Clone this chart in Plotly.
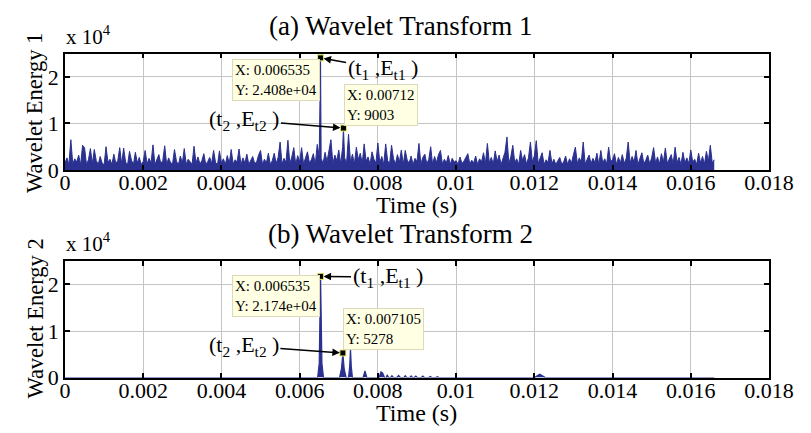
import numpy as np
import plotly.graph_objects as go

# ---------------- data ----------------
# (a) Wavelet Transform 1 : energy sampled every 0.00005 s from t = 0
dt_a = 0.00005
energy_a = [
    1500, 2600, 1200, 6500, 1300, 2400, 1700, 3200, 1100, 5300,
    4800, 1200, 2200, 4600, 1400, 4400, 2000, 1200, 2900, 1500,
    1100, 5000, 1600, 2300, 1200, 3400, 1400, 2000, 4800, 1300,
    4700, 1700, 1100, 4000, 2100, 1200, 3800, 1500, 2700, 1200,
    1800, 4200, 1300, 2500, 1500, 5400, 1200, 2200, 3300, 1400,
    2000, 5200, 1200, 2600, 1600, 1300, 4400, 1900, 1100, 3000,
    1500, 4600, 1200, 2300, 1700, 1200, 5100, 1500, 2800, 1300,
    2000, 3500, 1200, 1800, 2700, 1400, 4200, 1600, 1200, 4100,
    1500, 2400, 1200, 3100, 1400, 4400, 1300, 2200, 1700, 4500,
    1200, 2600, 1500, 3400, 1200, 1900, 2900, 1400, 1700, 3200,
    4200, 1200, 2300, 1500, 3600, 1200, 2000, 3600, 1400, 2700,
    6000, 1300, 2500, 1600, 6400, 1400, 2800, 4800, 1200, 3100,
    1700, 4800, 1300, 2600, 3900, 1500, 2200, 3500, 1200, 5500,
    3000, 2500, 1400, 3800, 1800, 4400, 6500, 1400, 3200, 2000,
    4300, 1300, 5000, 2600, 1500, 7700, 1700, 3400, 1300, 4900,
    2200, 3600, 1400, 5600, 1900, 2800, 1200, 3900, 2300, 1500,
    5800, 1600, 2900, 1200, 5600, 2000, 1400, 5300, 2400, 1300,
    3300, 1700, 4300, 1200, 4200, 2100, 1500, 3000, 1200, 2500,
    1800, 5700, 1300, 2700, 3400, 1400, 2200, 5000, 1200, 2900,
    1600, 3300, 4200, 1300, 2300, 1500, 3100, 1200, 2500, 1700,
    2000, 1200, 2800, 1400, 1900, 2600, 3500, 1300, 2100, 1500,
    3000, 1200, 2400, 1700, 3700, 1400, 5700, 1500, 2700, 1300,
    4100, 1800, 3200, 1200, 2500, 3800, 7100, 1400, 2900, 5300,
    1600, 2400, 1200, 4200, 2000, 3300, 1300, 2600, 6000, 1700,
    3000, 6300, 1400, 2500, 3700, 1200, 2200, 1600, 4200, 1400,
    2300, 1200, 2000, 2700, 1300, 1700, 3000, 1200, 2400, 1500,
    3300, 4900, 1400, 2600, 1700, 6000, 1300, 2100, 3200, 1400,
    2500, 1600, 3600, 1200, 4200, 1500, 2400, 1300, 4900, 1800,
    2200, 3500, 1200, 2700, 1500, 3300, 1400, 2500, 6000, 1500,
    2900, 1700, 4200, 1200, 2400, 3700, 1400, 2100, 3200, 1300,
    2600, 4800, 1500, 2800, 1300, 3500, 1700, 4700, 1400, 2400,
    3300, 1300, 4900, 1600, 2700, 1200, 3800, 1500, 2600, 1400,
    4300, 1700, 2300, 1200, 3600, 1500, 2900, 1300, 4000, 1900,
    5300, 1500, 2200,
]
peak_t_a = [0.006535, 0.00712]
peak_e_a = [24080, 9003]

# (b) Wavelet Transform 2
t_b = [0.0, 0.00646, 0.0065, 0.006535, 0.00657, 0.00661,
       0.00702, 0.00707, 0.007105, 0.00714, 0.00719,
       0.00725, 0.00728, 0.0073, 0.00732, 0.00735,
       0.00762, 0.00767, 0.00772,
       0.00803, 0.00808, 0.0081, 0.00812, 0.00817,
       0.00821, 0.00824, 0.00828, 0.00832, 0.00836, 0.0084,
       0.00848, 0.00853, 0.00858, 0.00866, 0.0087, 0.00874,
       0.00881, 0.00885, 0.00889, 0.00893, 0.00897, 0.00901,
       0.00911, 0.00915, 0.00919, 0.0093, 0.00934, 0.00938,
       0.00948, 0.00952, 0.00956, 0.0120, 0.01214, 0.01228,
       0.0166]
e_b = [0, 0, 3000, 21740, 3000, 0,
       0, 2000, 5278, 1800, 0,
       0, 2500, 6300, 2400, 0,
       0, 1450, 0,
       0, 1300, 800, 1000, 0,
       0, 500, 0, 0, 400, 0,
       0, 450, 0, 0, 400, 0,
       0, 350, 0, 0, 300, 0,
       0, 300, 0, 0, 250, 0,
       0, 200, 0, 0, 700, 0,
       0]

x_ticks = [0, 0.002, 0.004, 0.006, 0.008, 0.01, 0.012, 0.014, 0.016, 0.018]
x_tick_labels = ["0", "0.002", "0.004", "0.006", "0.008", "0.01",
                 "0.012", "0.014", "0.016", "0.018"]
y_ticks = [0, 10000, 20000]
y_tick_labels = ["0", "1", "2"]

titles = ["(a) Wavelet Transform 1", "(b) Wavelet Transform 2"]
y_titles = ["Wavelet Energy 1", "Wavelet Energy 2"]
x_title = "Time (s)"
tip_texts = ["X: 0.006535<br>Y: 2.408e+04", "X: 0.00712<br>Y: 9003",
             "X: 0.006535<br>Y: 2.174e+04", "X: 0.007105<br>Y: 5278"]
tip_points_a = ([0.006535, 0.00712], [24080, 9003])
tip_points_b = ([0.006535, 0.007105], [21740, 5278])

# ---------------- figure ----------------
W, H = 811, 433
FONT = "Liberation Serif"
BLUE = "#2B3190"


def px(x):
    return x / W


def py(y):
    return 1 - y / H


t_grid = np.arange(len(energy_a)) * dt_a
t_all = np.concatenate([t_grid, peak_t_a])
e_all = np.concatenate([energy_a, peak_e_a])
order = np.argsort(t_all, kind="stable")
t_all, e_all = t_all[order], e_all[order]

fig = go.Figure()
fig.add_trace(go.Scatter(x=t_all, y=e_all, mode="lines", xaxis="x", yaxis="y",
                         line=dict(color=BLUE, width=1), fill="tozeroy",
                         fillcolor=BLUE, hoverinfo="skip"))
fig.add_trace(go.Scatter(x=t_b, y=e_b, mode="lines", xaxis="x2", yaxis="y2",
                         line=dict(color=BLUE, width=1.2), fill="tozeroy",
                         fillcolor=BLUE, hoverinfo="skip"))
for (tx, ty), xa, ya in [(tip_points_a, "x", "y"), (tip_points_b, "x2", "y2")]:
    fig.add_trace(go.Scatter(x=tx, y=ty, mode="markers", xaxis=xa, yaxis=ya,
                             marker=dict(symbol="square", size=6, color="black",
                                         line=dict(color="#E8E860", width=1)),
                             hoverinfo="skip"))

x_dom = [px(53), px(785)]
common_x = dict(range=[0, 0.018], tickvals=x_ticks, ticktext=x_tick_labels,
                ticks="inside", ticklen=5, tickwidth=1.5, tickcolor="black",
                showline=True, linecolor="black", linewidth=1.5, mirror="ticks",
                showgrid=True, gridcolor="#C4C4C4", gridwidth=1, zeroline=False,
                ticklabelstandoff=-8,
                tickfont=dict(family=FONT, size=22, color="black"), domain=x_dom)
common_y = dict(range=[0, 25000], tickvals=y_ticks, ticktext=y_tick_labels,
                ticks="inside", ticklen=5, tickwidth=1.5, tickcolor="black",
                showline=True, linecolor="black", linewidth=1.5, mirror="ticks",
                showgrid=True, gridcolor="#C4C4C4", gridwidth=1, zeroline=False,
                tickfont=dict(family=FONT, size=22, color="black"))

fig.update_layout(
    width=W, height=H, margin=dict(l=0, r=0, t=0, b=0),
    paper_bgcolor="white", plot_bgcolor="white", showlegend=False,
    xaxis=dict(common_x, anchor="y"),
    yaxis=dict(common_y, domain=[py(167), py(47)], anchor="x"),
    xaxis2=dict(common_x, anchor="y2"),
    yaxis2=dict(common_y, domain=[py(381), py(261)], anchor="x2"),
)

ann = []
# titles, axis titles, exponent labels
for i, (ty, ey, yl, xl) in enumerate([(19, 44, 108, 203), (233, 258, 320, 418)]):
    ann.append(dict(text=titles[i], x=px(402), y=py(ty), xref="paper", yref="paper",
                    showarrow=False, font=dict(family=FONT, size=27, color="black"),
                    xanchor="center", yanchor="middle"))
    ann.append(dict(text=x_title, x=px(419), y=py(xl), xref="paper", yref="paper",
                    showarrow=False, font=dict(family=FONT, size=24, color="black"),
                    xanchor="center", yanchor="middle"))
    ann.append(dict(text=y_titles[i], x=px(22), y=py(yl), xref="paper", yref="paper",
                    showarrow=False, textangle=-90,
                    font=dict(family=FONT, size=22.5, color="black"),
                    xanchor="center", yanchor="middle"))
    ann.append(dict(text="x 10<sup>4</sup>", x=px(52), y=py(ey), xref="paper", yref="paper",
                    showarrow=False, font=dict(family=FONT, size=21, color="black"),
                    xanchor="left", yanchor="bottom"))

# datatip boxes
for text, cx, cy in [(tip_texts[0], 272, 74), (tip_texts[1], 382, 100),
                     (tip_texts[2], 272, 297), (tip_texts[3], 384, 331)]:
    ann.append(dict(text=text, x=px(cx), y=py(cy), xref="paper", yref="paper",
                    showarrow=False, align="left", bgcolor="#FFFFE3",
                    bordercolor="#DCDAB8", borderwidth=1, borderpad=2,
                    font=dict(family=FONT, size=15, color="black"),
                    xanchor="center", yanchor="middle"))

# arrow labels
lab1 = "(t<sub>1</sub> ,E<sub>t1</sub> )"
lab2 = "(t<sub>2</sub> ,E<sub>t2</sub> )"
for text, x, y, xr, yr, ax, ay in [
        (lab1, 0.006535, 24080, "x", "y", 62, 11),
        (lab2, 0.00712, 9003, "x", "y", -99, -8),
        (lab1, 0.006535, 21740, "x2", "y2", 67, 1),
        (lab2, 0.007105, 5278, "x2", "y2", -99, -7)]:
    ann.append(dict(text=text, x=x, y=y, xref=xr, yref=yr, showarrow=True,
                    ax=ax, ay=ay, arrowhead=2, arrowsize=1, arrowwidth=1.5,
                    arrowcolor="black", standoff=3,
                    font=dict(family=FONT, size=22, color="black")))

fig.update_layout(annotations=ann)
fig.write_html("out.html")
